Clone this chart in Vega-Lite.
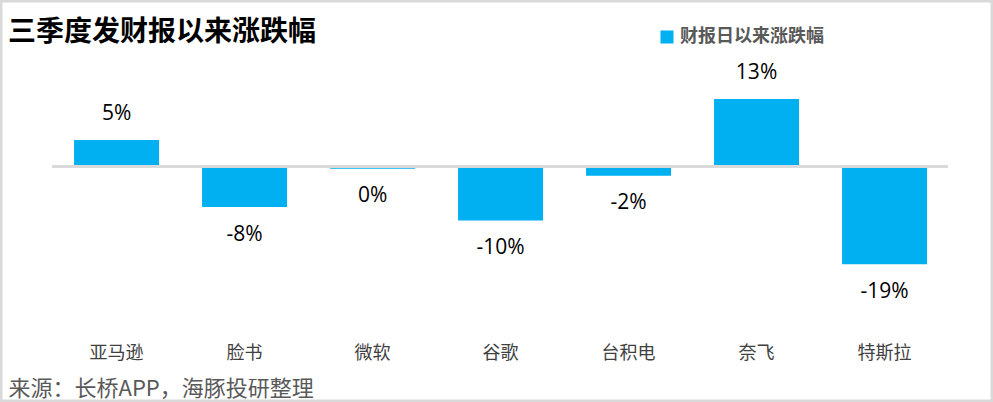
{
  "$schema": "https://vega.github.io/schema/vega-lite/v6.json",
  "width": 993,
  "height": 402,
  "autosize": {"type": "none"},
  "padding": 0,
  "background": "white",
  "config": {
    "view": {"stroke": "#d9d9d9", "strokeWidth": 5},
    "font": "Noto Sans CJK SC"
  },
  "title": {
    "text": "三季度发财报以来涨跌幅",
    "anchor": "start",
    "frame": "group",
    "orient": "top",
    "offset": -69,
    "dx": 8,
    "fontSize": 28,
    "fontWeight": "bold",
    "color": "#000000",
    "baseline": "alphabetic",
    "font": "Noto Sans CJK SC"
  },
  "data": {
    "values": [
      {"company": "亚马逊", "value": 5.1, "label": "5%", "series": "财报日以来涨跌幅"},
      {"company": "脸书", "value": -7.8, "label": "-8%", "series": "财报日以来涨跌幅"},
      {"company": "微软", "value": -0.45, "label": "0%", "series": "财报日以来涨跌幅"},
      {"company": "谷歌", "value": -10.4, "label": "-10%", "series": "财报日以来涨跌幅"},
      {"company": "台积电", "value": -1.8, "label": "-2%", "series": "财报日以来涨跌幅"},
      {"company": "奈飞", "value": 13.0, "label": "13%", "series": "财报日以来涨跌幅"},
      {"company": "特斯拉", "value": -18.8, "label": "-19%", "series": "财报日以来涨跌幅"}
    ]
  },
  "encoding": {
    "x": {
      "field": "company",
      "type": "nominal",
      "sort": null,
      "scale": {"paddingInner": 0.336, "paddingOuter": 0.547, "align": 0.529},
      "axis": {
        "title": "来源：长桥APP，海豚投研整理",
        "orient": "bottom",
        "offset": -58,
        "domain": false,
        "ticks": false,
        "grid": false,
        "labelPadding": 0,
        "labelBaseline": "top",
        "labelFontSize": 18,
        "labelColor": "#404040",
        "labelFont": "Noto Sans CJK SC",
        "labelAngle": 0,
        "labelFlush": false,
        "labelOverlap": false,
        "titleX": 8,
        "titleY": 51,
        "titleAlign": "left",
        "titleAnchor": "start",
        "titleBaseline": "alphabetic",
        "titleFontSize": 22,
        "titleFontWeight": "normal",
        "titleColor": "#595959",
        "titleFont": "Noto Sans CJK SC"
      }
    }
  },
  "layer": [
    {
      "mark": {"type": "bar"},
      "encoding": {
        "y": {
          "field": "value",
          "type": "quantitative",
          "scale": {"domain": [-45.29, 32.02], "nice": false, "zero": false},
          "axis": null
        },
        "color": {
          "field": "series",
          "type": "nominal",
          "scale": {"range": ["#00B0F0"]},
          "legend": {
            "orient": "none",
            "legendX": 658,
            "legendY": 28,
            "title": null,
            "symbolType": "square",
            "symbolSize": 170,
            "symbolStrokeWidth": 0,
            "labelFontSize": 18,
            "labelFontWeight": "bold",
            "labelColor": "#595959",
            "labelFont": "Noto Sans CJK SC",
            "padding": 0,
            "labelOffset": 4
          }
        }
      }
    },
    {
      "mark": {"type": "rule", "color": "#d9d9d9", "strokeWidth": 2},
      "encoding": {
        "x": {"datum": "亚马逊", "bandPosition": -0.26},
        "x2": {"datum": "特斯拉", "bandPosition": 1.247},
        "y": {"datum": 0, "type": "quantitative"}
      }
    },
    {
      "transform": [{"filter": "datum.value >= 0"}],
      "mark": {"type": "text", "baseline": "middle", "dy": -26, "fontSize": 21, "font": "Open Sans", "color": "#000000"},
      "encoding": {
        "y": {"field": "value", "type": "quantitative"},
        "text": {"field": "label"}
      }
    },
    {
      "transform": [{"filter": "datum.value < 0"}],
      "mark": {"type": "text", "baseline": "middle", "dy": 27.5, "fontSize": 21, "font": "Open Sans", "color": "#000000"},
      "encoding": {
        "y": {"field": "value", "type": "quantitative"},
        "text": {"field": "label"}
      }
    }
  ]
}
